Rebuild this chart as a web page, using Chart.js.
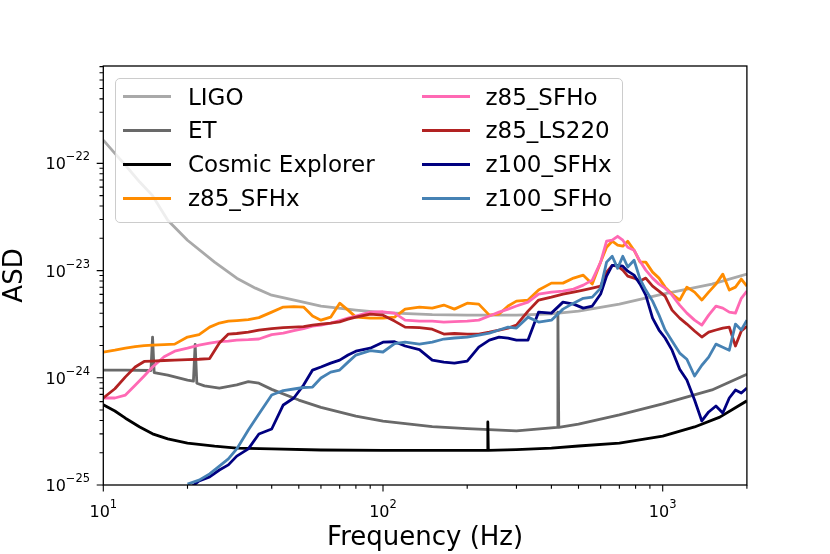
<!DOCTYPE html>
<html lang="en">
<head>
<meta charset="UTF-8">
<title>ASD</title>
<script src="https://cdn.jsdelivr.net/npm/chart.js@4.4.0/dist/chart.umd.min.js"></script>
<style>
  html, body { margin: 0; padding: 0; background: #fff; }
  #wrap { position: relative; width: 830px; height: 554px; }
  #legend {
    position: absolute; left: 115px; top: 78px; width: 508px; height: 145px;
    box-sizing: border-box; border: 1px solid #cccccc; border-radius: 5px;
    background: rgba(255, 255, 255, 0.8);
    font-family: "DejaVu Sans"; font-size: 23px; color: #000;
  }
  .item { position: absolute; height: 23px; line-height: 23px; white-space: nowrap; }
  .swatch { position: absolute; height: 3px; width: 48px; }
</style>
</head>
<body>
<div id="wrap">
  <canvas id="asd" width="830" height="554"></canvas>
  <div id="legend"></div>
</div>
<script>
// detector noise curves
var ligoFreq = [10, 11, 12, 13.5, 15, 17, 20, 25, 30, 35, 40, 50, 60, 80, 100, 150, 200, 300, 400, 500, 700, 1000, 1500, 2000]
var ligo = [1.65e-22, 1.24e-22, 9.6e-23, 6.7e-23, 5.0e-23, 2.95e-23, 1.92e-23, 1.2e-23, 8.5e-24, 6.86e-24, 5.9e-24, 5.2e-24, 4.66e-24, 4.28e-24, 4.05e-24, 3.88e-24, 3.84e-24, 3.84e-24, 3.95e-24, 4.19e-24, 4.87e-24, 6.04e-24, 7.48e-24, 9.27e-24]

var etFreq = [10, 12, 14.8, 15, 15.2, 17, 20, 21, 21.3, 21.6, 23, 26, 30, 33, 36, 40, 50, 60, 80, 100, 150, 200, 300, 419, 422, 425, 500, 700, 1000, 1500, 2000]
var et = [1.18e-24, 1.18e-24, 1.17e-24, 2.4e-24, 1.12e-24, 1.06e-24, 9.5e-25, 9.3e-25, 2.05e-24, 8.9e-25, 8.4e-25, 8.0e-25, 8.6e-25, 9.2e-25, 8.9e-25, 7.8e-25, 6.2e-25, 5.3e-25, 4.4e-25, 3.95e-25, 3.5e-25, 3.35e-25, 3.2e-25, 3.45e-25, 4.1e-24, 3.45e-25, 3.7e-25, 4.5e-25, 5.7e-25, 7.7e-25, 1.08e-24]

var ceFreq = [10, 11, 12, 13.5, 15, 17, 20, 25, 30, 40, 60, 100, 200, 236, 237, 238, 300, 400, 500, 700, 1000, 1300, 1600, 2000]
var ce = [5.6e-25, 4.9e-25, 4.2e-25, 3.48e-25, 3.0e-25, 2.69e-25, 2.46e-25, 2.3e-25, 2.21e-25, 2.17e-25, 2.12e-25, 2.1e-25, 2.1e-25, 2.1e-25, 3.87e-25, 2.1e-25, 2.14e-25, 2.21e-25, 2.31e-25, 2.46e-25, 2.86e-25, 3.48e-25, 4.3e-25, 6.1e-25]

// signal spectra, all on one frequency grid (z100 runs start at 20 Hz)
var sigFreq = [10, 11, 12, 13, 14, 15, 16.5, 18, 20, 22, 24, 26, 28, 30, 33, 36, 40, 44, 48, 52, 56, 60, 65, 70, 75, 80, 90, 100, 110, 120, 135, 150, 165, 180, 200, 220, 240, 260, 280, 300, 330, 360, 400, 440, 480, 520, 560, 600, 630, 660, 690, 720, 750, 790, 830, 870, 920, 970, 1020, 1080, 1150, 1220, 1300, 1380, 1460, 1550, 1640, 1730, 1820, 1910, 2000]

var z85_SFHx = [1.74e-24, 1.81e-24, 1.89e-24, 1.95e-24, 2.0e-24, 2.02e-24, 2.04e-24, 2.06e-24, 2.4e-24, 2.53e-24, 2.97e-24, 3.24e-24, 3.38e-24, 3.42e-24, 3.49e-24, 3.64e-24, 4.1e-24, 4.57e-24, 4.62e-24, 4.57e-24, 3.77e-24, 3.45e-24, 3.68e-24, 4.97e-24, 4.28e-24, 3.68e-24, 3.6e-24, 3.6e-24, 3.68e-24, 4.37e-24, 4.57e-24, 4.47e-24, 4.77e-24, 4.37e-24, 4.97e-24, 4.87e-24, 3.84e-24, 3.93e-24, 4.67e-24, 5.19e-24, 5.31e-24, 6.58e-24, 7.64e-24, 7.64e-24, 8.51e-24, 9.07e-24, 7.48e-24, 1.2e-23, 1.65e-23, 1.88e-23, 1.73e-23, 1.69e-23, 1.88e-23, 1.55e-23, 1.2e-23, 1.2e-23, 9.68e-24, 8.51e-24, 7.01e-24, 6.04e-24, 5.31e-24, 7.01e-24, 6.3e-24, 5.31e-24, 6.3e-24, 7.48e-24, 9.27e-24, 6.58e-24, 7.01e-24, 8.33e-24, 7.16e-24]

var z85_SFHo = [6.48e-25, 6.48e-25, 6.9e-25, 8.5e-25, 1.04e-24, 1.26e-24, 1.57e-24, 1.77e-24, 1.89e-24, 2.02e-24, 2.11e-24, 2.18e-24, 2.2e-24, 2.25e-24, 2.27e-24, 2.3e-24, 2.53e-24, 2.61e-24, 2.76e-24, 2.88e-24, 3.03e-24, 3.1e-24, 3.24e-24, 3.42e-24, 3.6e-24, 3.77e-24, 4.1e-24, 4.13e-24, 4.01e-24, 3.45e-24, 3.38e-24, 3.38e-24, 3.31e-24, 3.34e-24, 3.38e-24, 3.45e-24, 3.77e-24, 4.1e-24, 4.37e-24, 4.67e-24, 5.08e-24, 6.04e-24, 6.3e-24, 6.44e-24, 6.72e-24, 7.32e-24, 8.15e-24, 1.2e-23, 1.88e-23, 1.92e-23, 2.09e-23, 1.92e-23, 1.65e-23, 1.55e-23, 1.22e-23, 1.01e-23, 8.51e-24, 7.48e-24, 6.86e-24, 5.91e-24, 4.77e-24, 4.01e-24, 3.45e-24, 3.1e-24, 3.84e-24, 4.67e-24, 4.47e-24, 4.1e-24, 4.01e-24, 5.51e-24, 6.44e-24]

var z85_LS220 = [6.48e-25, 7.9e-25, 1.02e-24, 1.26e-24, 1.42e-24, 1.43e-24, 1.45e-24, 1.46e-24, 1.48e-24, 1.49e-24, 1.51e-24, 2.11e-24, 2.56e-24, 2.59e-24, 2.67e-24, 2.79e-24, 2.88e-24, 2.94e-24, 2.97e-24, 3.0e-24, 3.1e-24, 3.17e-24, 3.24e-24, 3.33e-24, 3.52e-24, 3.68e-24, 3.93e-24, 3.84e-24, 3.38e-24, 2.97e-24, 2.94e-24, 2.84e-24, 2.56e-24, 2.59e-24, 2.56e-24, 2.56e-24, 2.67e-24, 2.79e-24, 2.91e-24, 3.1e-24, 4.19e-24, 5.31e-24, 5.66e-24, 6.04e-24, 6.3e-24, 6.58e-24, 6.86e-24, 7.16e-24, 9.68e-24, 1.12e-23, 1.1e-23, 1.01e-23, 8.88e-24, 8.51e-24, 7.98e-24, 8.51e-24, 7.16e-24, 6.44e-24, 5.78e-24, 4.28e-24, 3.6e-24, 3.17e-24, 2.73e-24, 2.4e-24, 2.67e-24, 2.79e-24, 2.91e-24, 2.97e-24, 1.98e-24, 2.73e-24, 3.03e-24]

var z100Freq = sigFreq.slice(8)

var z100_SFHx = [9.0e-26, 1.09e-25, 1.19e-25, 1.38e-25, 1.54e-25, 1.86e-25, 2.17e-25, 2.99e-25, 3.33e-25, 5.58e-25, 6.48e-25, 8.56e-25, 1.18e-24, 1.26e-24, 1.37e-24, 1.46e-24, 1.63e-24, 1.77e-24, 1.89e-24, 2.15e-24, 2.17e-24, 1.98e-24, 1.83e-24, 1.46e-24, 1.4e-24, 1.37e-24, 1.43e-24, 1.93e-24, 2.25e-24, 2.4e-24, 2.35e-24, 2.25e-24, 2.25e-24, 4.1e-24, 4.01e-24, 5.08e-24, 4.87e-24, 4.47e-24, 4.67e-24, 6.04e-24, 8.88e-24, 1.12e-23, 1.12e-23, 1.1e-23, 9.88e-24, 9.07e-24, 7.48e-24, 5.91e-24, 3.6e-24, 2.79e-24, 2.35e-24, 1.81e-24, 1.2e-24, 9.53e-25, 6.21e-25, 3.96e-25, 4.8e-25, 5.46e-25, 4.7e-25, 6.48e-25, 7.69e-25, 7.21e-25, 8.03e-25]

var z100_SFHo = [1.02e-25, 1.11e-25, 1.27e-25, 1.5e-25, 1.75e-25, 2.17e-25, 3.26e-25, 4.6e-25, 6.91e-25, 7.61e-25, 7.86e-25, 8.12e-25, 8.2e-25, 9.95e-25, 1.13e-24, 1.18e-24, 1.4e-24, 1.63e-24, 1.79e-24, 1.74e-24, 2.08e-24, 2.15e-24, 2.06e-24, 2.15e-24, 2.3e-24, 2.35e-24, 2.4e-24, 2.5e-24, 2.61e-24, 2.79e-24, 2.97e-24, 2.91e-24, 3.68e-24, 3.31e-24, 3.45e-24, 4.37e-24, 4.97e-24, 5.51e-24, 5.66e-24, 6.86e-24, 1.2e-23, 1.36e-23, 1.05e-23, 1.36e-23, 1.08e-23, 1.25e-23, 8.33e-24, 6.58e-24, 5.19e-24, 3.84e-24, 2.79e-24, 2.2e-24, 1.7e-24, 1.49e-24, 1.04e-24, 1.31e-24, 1.56e-24, 2.06e-24, 1.93e-24, 1.81e-24, 3.17e-24, 2.79e-24, 3.45e-24]

var xMajor = [10, 100, 1000]
var yMajor = [1e-25, 1e-24, 1e-23, 1e-22]
var xExp = ['1', '2', '3']
var yExp = ['\u221225', '\u221224', '\u221223', '\u221222']

var xMin = 10, xMax = 2000
var yMin = 1e-25, yMax = 8.1e-22

function pts(f, v) {
  return f.map((fx, i) => ({ x: fx, y: v[i] }))
}

var series = [
  { label: 'LIGO', f: ligoFreq, v: ligo, color: '#a9a9a9' },
  { label: 'ET', f: etFreq, v: et, color: '#696969' },
  { label: 'Cosmic Explorer', f: ceFreq, v: ce, color: '#000000' },
  { label: 'z85_SFHx', f: sigFreq, v: z85_SFHx, color: '#ff8c00' },
  { label: 'z85_SFHo', f: sigFreq, v: z85_SFHo, color: '#ff69b4' },
  { label: 'z85_LS220', f: sigFreq, v: z85_LS220, color: '#b22222' },
  { label: 'z100_SFHx', f: z100Freq, v: z100_SFHx, color: '#000080' },
  { label: 'z100_SFHo', f: z100Freq, v: z100_SFHo, color: '#4682b4' }
]

var datasets = series.map((s, i) => ({
  label: s.label,
  data: pts(s.f, s.v),
  borderColor: s.color,
  backgroundColor: s.color,
  borderWidth: 2.8,
  borderJoinStyle: 'round',
  pointRadius: 0,
  tension: 0,
  fill: false,
  clip: 0,
  order: series.length - i
}))

function minors(major, lo, hi) {
  var out = []
  major.concat([major[major.length - 1] * 10]).forEach(m => {
    for (var k = 2; k <= 9; k++) {
      var v = m * k
      if (v >= lo * 0.999 && v <= hi * 1.001) out.push(v)
    }
  })
  return out
}

function drawPow(ctx, exp, x, baseline, align) {
  ctx.font = '16px "DejaVu Sans"'
  var wb = ctx.measureText('10').width
  ctx.font = '11.5px "DejaVu Sans"'
  var we = ctx.measureText(exp).width
  var start = align === 'center' ? x - (wb + we) / 2 : x - (wb + we)
  ctx.font = '16px "DejaVu Sans"'
  ctx.fillText('10', start, baseline)
  ctx.font = '11.5px "DejaVu Sans"'
  ctx.fillText(exp, start + wb, baseline - 9)
}

var axesDecor = {
  id: 'axesDecor',
  afterDraw(chart) {
    var ctx = chart.ctx
    var a = chart.chartArea
    var x = chart.scales.x, y = chart.scales.y
    ctx.save()
    ctx.strokeStyle = '#000'
    ctx.fillStyle = '#000'
    ctx.lineWidth = 1.3
    ctx.strokeRect(a.left, a.top, a.right - a.left, a.bottom - a.top)

    ctx.lineWidth = 1.1
    ctx.beginPath()
    xMajor.forEach(v => { var p = x.getPixelForValue(v); ctx.moveTo(p, a.bottom); ctx.lineTo(p, a.bottom + 6.6) })
    minors(xMajor, xMin, xMax).forEach(v => { var p = x.getPixelForValue(v); ctx.moveTo(p, a.bottom); ctx.lineTo(p, a.bottom + 3.8) })
    yMajor.forEach(v => { var p = y.getPixelForValue(v); ctx.moveTo(a.left, p); ctx.lineTo(a.left - 6.6, p) })
    minors(yMajor, yMin, yMax).forEach(v => { var p = y.getPixelForValue(v); ctx.moveTo(a.left, p); ctx.lineTo(a.left - 3.8, p) })
    ctx.stroke()

    ctx.textBaseline = 'alphabetic'
    ctx.textAlign = 'left'
    xMajor.forEach((v, i) => drawPow(ctx, xExp[i], x.getPixelForValue(v), a.bottom + 31.5, 'center'))
    yMajor.forEach((v, i) => drawPow(ctx, yExp[i], a.left - 13.2, y.getPixelForValue(v) + 6, 'right'))
    ctx.restore()
  }
}

var titleFont = { family: 'DejaVu Sans', size: 26 }

var chart = new Chart(document.getElementById('asd'), {
  type: 'line',
  data: { datasets: datasets },
  options: {
    responsive: false,
    animation: false,
    events: [],
    layout: { padding: { left: 0, right: 83.1, top: 66, bottom: 0 } },
    plugins: { legend: { display: false }, tooltip: { enabled: false } },
    scales: {
      x: {
        type: 'logarithmic', min: xMin, max: xMax,
        grid: { display: false }, border: { display: false }, ticks: { display: false },
        title: { display: true, text: 'Frequency (Hz)', color: '#000', font: titleFont, padding: 0 },
        afterFit(s) { s.height = 69 }
      },
      y: {
        type: 'logarithmic', min: yMin, max: yMax,
        grid: { display: false }, border: { display: false }, ticks: { display: false },
        title: { display: true, text: 'ASD', color: '#000', font: titleFont, padding: 0 },
        afterFit(s) { s.width = 103.3 }
      }
    }
  },
  plugins: [axesDecor]
})

// legend, two columns like the original
var legend = document.getElementById('legend')
var rowTops = [6.5, 40.4, 74.3, 108.2]
series.forEach((s, i) => {
  var col = Math.floor(i / 4), row = i % 4
  var sw = document.createElement('div')
  sw.className = 'swatch'
  sw.style.background = s.color
  sw.style.left = (col === 0 ? 7.3 : 305.7) + 'px'
  sw.style.top = (rowTops[row] + 9.6) + 'px'
  legend.appendChild(sw)
  var t = document.createElement('div')
  t.className = 'item'
  t.textContent = s.label
  t.style.left = (col === 0 ? 72 : 369.5) + 'px'
  t.style.top = rowTops[row] + 'px'
  legend.appendChild(t)
})
</script>
</body>
</html>
